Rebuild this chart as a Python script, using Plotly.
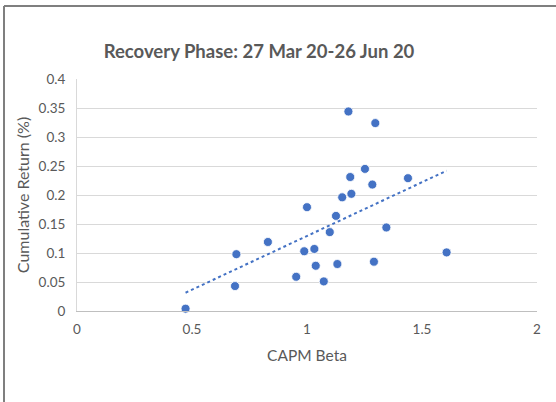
import numpy as np
import plotly.graph_objects as go

# CAPM beta vs cumulative return, recovery phase
beta = [1.180, 1.297, 1.252, 1.188, 1.284, 1.439, 1.193, 1.153, 1.000, 1.126,
        1.345, 1.099, 0.830, 0.988, 1.032, 1.607, 1.038, 1.132, 1.291, 0.953,
        1.073, 0.472, 0.693, 0.687]
cum_return = [0.344, 0.324, 0.245, 0.231, 0.218, 0.229, 0.202, 0.196, 0.179, 0.164,
              0.144, 0.136, 0.119, 0.103, 0.107, 0.101, 0.078, 0.081, 0.085, 0.059,
              0.051, 0.004, 0.098, 0.043]

x_ticks = [0, 0.5, 1, 1.5, 2]
x_labels = ['0', '0.5', '1', '1.5', '2']
y_ticks = [0, 0.05, 0.1, 0.15, 0.2, 0.25, 0.3, 0.35, 0.4]
y_labels = ['0', '0.05', '0.1', '0.15', '0.2', '0.25', '0.3', '0.35', '0.4']

blue = '#4472C4'
grey = '#595959'
font = 'Lato'

# linear trendline like excel (min x to max x)
slope, icpt = np.polyfit(beta, cum_return, 1)
tx = np.array([min(beta), max(beta)])
ty = slope * tx + icpt

fig = go.Figure()
fig.add_trace(go.Scatter(
    x=beta, y=cum_return, mode='markers',
    marker=dict(size=9, color=blue, line=dict(color='white', width=0.8)),
    showlegend=False, cliponaxis=False
))
fig.add_trace(go.Scatter(
    x=tx, y=ty, mode='lines',
    line=dict(color=blue, width=2, dash='dot'),
    showlegend=False
))

L, R, T, B = 77, 19, 79, 91
W, H = 556, 402
pw, ph = W - L - R, H - T - B

fig.update_layout(
    width=W, height=H,
    margin=dict(l=L, r=R, t=T, b=B, autoexpand=False),
    paper_bgcolor='white', plot_bgcolor='white',
    font=dict(family=font, color=grey, size=13.5),
    title=dict(text='<b>Recovery Phase: 27 Mar 20-26 Jun 20</b>',
               x=259 / W, xanchor='center', y=1 - 52 / H, yanchor='middle',
               font=dict(family=font, size=18.5, color=grey)),
    xaxis=dict(range=[0, 2], tickvals=x_ticks, ticktext=x_labels,
               showgrid=False, zeroline=False,
               showline=True, linecolor='#bfbfbf', linewidth=1.3,
               ticks='outside', ticklen=6, tickcolor='rgba(0,0,0,0)',
               title=dict(text='CAPM Beta', font=dict(size=15.5, color=grey), standoff=13)),
    yaxis=dict(range=[0, 0.4], tickvals=y_ticks, ticktext=y_labels,
               showgrid=True, gridcolor='#d9d9d9', gridwidth=1.3, zeroline=False,
               showline=True, linecolor='#d9d9d9', linewidth=1,
               ticks='outside', ticklen=8, tickcolor='rgba(0,0,0,0)',
               title=dict(text='Cumulative Return (%)', font=dict(size=16, color=grey), standoff=5)),
    shapes=[
        dict(type='line', xref='paper', yref='paper',
             x0=(4 - L) / pw, x1=(W - L) / pw + 0.01, y0=1 + (T - 6) / ph, y1=1 + (T - 6) / ph,
             line=dict(color='#7f7f7f', width=2)),
        dict(type='line', xref='paper', yref='paper',
             x0=(4 - L) / pw, x1=(4 - L) / pw, y0=1 + (T - 6) / ph, y1=-(B + 2) / ph,
             line=dict(color='#7f7f7f', width=2)),
    ]
)

# drop the browser's default page margin so the figure sits at 0,0
fig.write_html('out.html', config={'displayModeBar': False},
               post_script="document.body.style.margin='0';")
